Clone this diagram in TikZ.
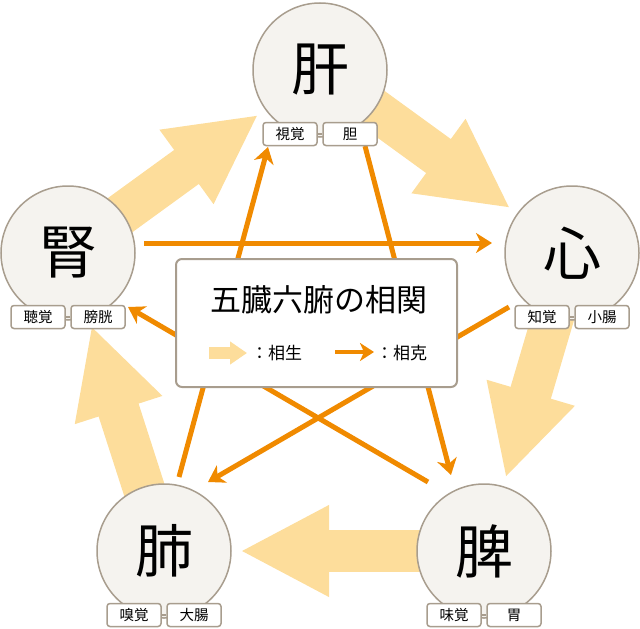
\documentclass[tikz,border=0pt]{standalone}
\usepackage{fontspec}
\setmainfont{Noto Sans CJK JP}
\usetikzlibrary{arrows.meta,calc}
\definecolor{pale}{HTML}{FDDD9B}
\definecolor{orng}{HTML}{F08A00}
\definecolor{cfill}{HTML}{F5F3EF}
\definecolor{cline}{HTML}{A89D8E}
\tikzset{
  organ/.style={circle,draw=cline,fill=cfill,line width=1.5pt,minimum size=134pt,inner sep=0pt,font=\fontsize{58}{60}\selectfont},
  tag/.style={draw=cline,fill=white,rounded corners=3pt,line width=1.5pt,minimum width=54pt,minimum height=23pt,inner sep=0pt,font=\fontsize{14.5}{16}\selectfont},
  tagline/.style={draw=cline,line width=1.5pt},
  gen/.style={draw=pale,line width=42pt,-{Triangle[length=89pt,width=85pt,fill=pale]}},
  ctrl/.style={draw=orng,line width=5pt,-{Stealth[length=16pt,width=20pt,inset=5pt]}},
  legendbox/.style={draw=cline,fill=white,rounded corners=6pt,line width=2pt},
}
\begin{document}
\begin{tikzpicture}[x=1pt,y=-1pt]
\useasboundingbox (0,0) rectangle (640,629);
% centres
\coordinate (cKan) at (320,70);
\coordinate (cShin) at (572,253);
\coordinate (cHi) at (484,551);
\coordinate (cHai) at (164,551);
\coordinate (cJin) at (68,253);
% generation arrow tips (76 from target centre)
\coordinate (tKan) at ($(cKan)!76pt!(cJin)$);
\coordinate (tShin) at ($(cShin)!76pt!(cKan)$);
\coordinate (tHi) at ($(cHi)!76pt!(cShin)$);
\coordinate (tHai) at ($(cHai)!76pt!(cHi)$);
\coordinate (tJin) at ($(cJin)!76pt!(cHai)$);
% big pale arrows
\draw[gen] (cJin) -- (tKan);
\draw[gen] (cKan) -- (tShin);
\draw[gen] (cShin) -- (tHi);
\draw[gen] (cHi) -- (tHai);
\draw[gen] (cHai) -- (tJin);
% control lines
\coordinate (o1s) at (144,243); \coordinate (o1e) at (492,243);
\coordinate (o2s) at (509,307); \coordinate (o2e) at (208,482);
\coordinate (o3s) at (179,477); \coordinate (o3e) at (268,147);
\coordinate (o4s) at (365,146); \coordinate (o4e) at (451,475);
\coordinate (o5s) at (428,482); \coordinate (o5e) at (128,307);
\draw[ctrl] (o1s) -- (o1e);
\draw[ctrl] (o2s) -- (o2e);
\draw[ctrl] (o3s) -- (o3e);
\draw[ctrl] (o4s) -- (o4e);
\draw[ctrl] (o5s) -- (o5e);
% organs
\node[organ] (kan) at (cKan) {肝};
\node[organ] (shin) at (cShin) {心};
\node[organ] (hi) at (cHi) {脾};
\node[organ] (hai) at (cHai) {肺};
\node[organ] (jin) at (cJin) {腎};
% tags
\node[tag] (kanA) at ($(cKan)+(-30,64)$) {視覚};
\node[tag] (kanB) at ($(cKan)+(30,64)$) {胆};
\node[tag] (shinA) at ($(cShin)+(-30,64)$) {知覚};
\node[tag] (shinB) at ($(cShin)+(30,64)$) {小腸};
\node[tag] (hiA) at ($(cHi)+(-30,64)$) {味覚};
\node[tag] (hiB) at ($(cHi)+(30,64)$) {胃};
\node[tag] (haiA) at ($(cHai)+(-30,64)$) {嗅覚};
\node[tag] (haiB) at ($(cHai)+(30,64)$) {大腸};
\node[tag] (jinA) at ($(cJin)+(-30,64)$) {聴覚};
\node[tag] (jinB) at ($(cJin)+(30,64)$) {膀胱};
\draw[tagline] (kanA) -- (kanB);
\draw[tagline] (shinA) -- (shinB);
\draw[tagline] (hiA) -- (hiB);
\draw[tagline] (haiA) -- (haiB);
\draw[tagline] (jinA) -- (jinB);
% legend
\draw[legendbox] (176,259) rectangle (457,387);
\node[font=\fontsize{31}{33}\selectfont] (title) at (318.5,300) {五臓六腑の相関};
\coordinate (lg1s) at (209,353); \coordinate (lg1e) at (247,353);
\draw[draw=pale,line width=12pt,-{Triangle[length=17pt,width=22pt,fill=pale]}] (lg1s) -- (lg1e);
\node[anchor=west,inner sep=0pt,font=\fontsize{17}{19}\selectfont] (lt1) at (251,353) {：相生};
\coordinate (lg2s) at (335,352); \coordinate (lg2e) at (374,352);
\draw[draw=orng,line width=4pt,-{Stealth[length=14pt,width=18pt,inset=4pt]}] (lg2s) -- (lg2e);
\node[anchor=west,inner sep=0pt,font=\fontsize{17}{19}\selectfont] (lt2) at (376,353) {：相克};
\end{tikzpicture}
\end{document}
